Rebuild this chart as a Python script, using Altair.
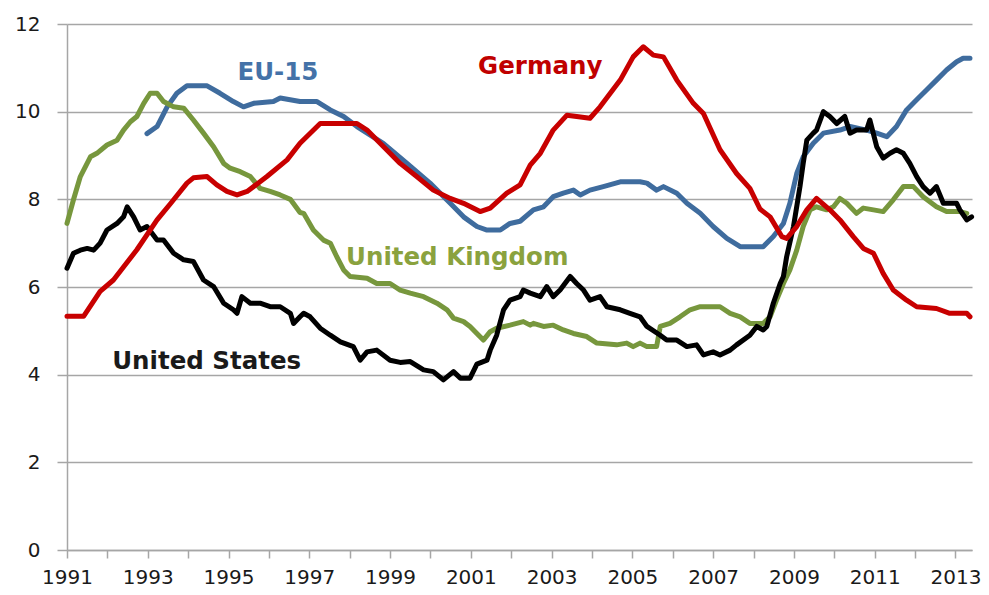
import altair as alt
import pandas as pd

# ---------------- data ----------------
eu_years = [1992.98, 1993.23, 1993.48, 1993.72, 1993.97, 1994.47, 1994.79, 1995.12, 1995.37, 1995.62,
            1996.11, 1996.28, 1996.77, 1997.19, 1997.52, 1997.85, 1998.18, 1998.84, 1999.42, 1999.99,
            2000.49, 2000.82, 2001.15, 2001.40, 2001.73, 2001.97, 2002.22, 2002.55, 2002.80, 2003.04,
            2003.29, 2003.54, 2003.71, 2003.95, 2004.28, 2004.70, 2005.19, 2005.36, 2005.60, 2005.77,
            2006.10, 2006.35, 2006.68, 2007.00, 2007.34, 2007.67, 2008.16, 2008.24, 2008.49, 2008.74,
            2008.90, 2009.07, 2009.23, 2009.48, 2009.73, 2010.14, 2010.39, 2010.80, 2011.05, 2011.30,
            2011.54, 2011.79, 2012.04, 2012.29, 2012.53, 2012.78, 2013.03, 2013.19, 2013.36]
eu_values = [9.50, 9.66, 10.11, 10.42, 10.59, 10.59, 10.42, 10.23, 10.11, 10.19,
             10.23, 10.31, 10.23, 10.23, 10.04, 9.89, 9.66, 9.27, 8.82, 8.37,
             7.91, 7.60, 7.38, 7.30, 7.30, 7.45, 7.50, 7.76, 7.83, 8.06,
             8.14, 8.21, 8.10, 8.21, 8.29, 8.40, 8.40, 8.37, 8.21, 8.29,
             8.14, 7.91, 7.68, 7.38, 7.11, 6.92, 6.92, 6.92, 7.15, 7.45,
             7.91, 8.59, 8.97, 9.28, 9.51, 9.58, 9.66, 9.58, 9.51, 9.43,
             9.66, 10.04, 10.27, 10.50, 10.72, 10.95, 11.14, 11.22, 11.22]

de_years = [1991.00, 1991.41, 1991.82, 1992.15, 1992.73, 1993.23, 1993.56, 1993.97, 1994.13, 1994.47,
            1994.71, 1994.96, 1995.21, 1995.46, 1995.95, 1996.45, 1996.77, 1997.27, 1998.18, 1998.43,
            1998.84, 1999.25, 1999.66, 2000.07, 2000.49, 2000.82, 2001.23, 2001.48, 2001.89, 2002.22,
            2002.47, 2002.72, 2003.04, 2003.38, 2003.62, 2003.95, 2004.20, 2004.70, 2005.02, 2005.27,
            2005.52, 2005.77, 2006.10, 2006.51, 2006.76, 2007.17, 2007.58, 2007.91, 2008.16, 2008.41,
            2008.70, 2008.82, 2009.07, 2009.32, 2009.56, 2009.89, 2010.14, 2010.47, 2010.72, 2010.97,
            2011.21, 2011.46, 2011.79, 2012.04, 2012.53, 2012.86, 2013.28, 2013.36]
de_values = [5.33, 5.33, 5.90, 6.16, 6.85, 7.53, 7.90, 8.37, 8.49, 8.52,
             8.33, 8.18, 8.10, 8.18, 8.52, 8.90, 9.28, 9.73, 9.73, 9.58,
             9.20, 8.82, 8.52, 8.21, 8.02, 7.91, 7.72, 7.80, 8.14, 8.33,
             8.78, 9.05, 9.58, 9.92, 9.89, 9.85, 10.11, 10.72, 11.25, 11.48,
             11.29, 11.25, 10.72, 10.19, 9.96, 9.13, 8.59, 8.25, 7.78, 7.60,
             7.15, 7.11, 7.38, 7.76, 8.02, 7.76, 7.53, 7.15, 6.88, 6.77,
             6.31, 5.93, 5.70, 5.55, 5.51, 5.40, 5.40, 5.32]

uk_years = [1991.00, 1991.16, 1991.33, 1991.58, 1991.74, 1991.99, 1992.24, 1992.40, 1992.57, 1992.73,
            1992.90, 1993.06, 1993.23, 1993.39, 1993.64, 1993.89, 1994.13, 1994.38, 1994.63, 1994.88,
            1995.04, 1995.29, 1995.54, 1995.78, 1996.03, 1996.28, 1996.53, 1996.77, 1996.86, 1997.10,
            1997.35, 1997.52, 1997.68, 1997.85, 1998.01, 1998.43, 1998.67, 1999.00, 1999.25, 1999.50,
            1999.83, 2000.16, 2000.41, 2000.57, 2000.82, 2000.98, 2001.15, 2001.31, 2001.48, 2001.64,
            2001.97, 2002.30, 2002.47, 2002.55, 2002.80, 2003.04, 2003.29, 2003.54, 2003.87, 2004.12,
            2004.61, 2004.86, 2005.02, 2005.19, 2005.36, 2005.60, 2005.69, 2005.93, 2006.18, 2006.43,
            2006.68, 2007.17, 2007.42, 2007.67, 2007.91, 2008.16, 2008.24, 2008.41, 2008.57, 2008.74,
            2008.90, 2009.07, 2009.23, 2009.40, 2009.56, 2009.81, 2009.98, 2010.14, 2010.31, 2010.55,
            2010.72, 2010.97, 2011.21, 2011.46, 2011.71, 2011.96, 2012.20, 2012.53, 2012.78, 2013.11,
            2013.28]
uk_values = [7.45, 7.99, 8.52, 8.97, 9.05, 9.24, 9.35, 9.58, 9.77, 9.89,
             10.19, 10.42, 10.42, 10.23, 10.11, 10.08, 9.81, 9.51, 9.20, 8.82,
             8.71, 8.63, 8.52, 8.25, 8.18, 8.10, 8.00, 7.70, 7.68, 7.30,
             7.07, 7.00, 6.69, 6.39, 6.24, 6.20, 6.08, 6.08, 5.93, 5.86,
             5.78, 5.63, 5.48, 5.29, 5.21, 5.10, 4.94, 4.79, 4.98, 5.06,
             5.13, 5.21, 5.13, 5.17, 5.10, 5.13, 5.02, 4.94, 4.87, 4.72,
             4.68, 4.72, 4.64, 4.72, 4.64, 4.64, 5.10, 5.17, 5.32, 5.48,
             5.55, 5.55, 5.40, 5.32, 5.17, 5.17, 5.17, 5.32, 5.70, 6.08,
             6.39, 6.84, 7.38, 7.76, 7.83, 7.76, 7.83, 8.02, 7.91, 7.68,
             7.80, 7.76, 7.72, 7.99, 8.29, 8.29, 8.06, 7.83, 7.72, 7.72,
             7.68]

us_years = [1991.00, 1991.16, 1991.33, 1991.50, 1991.66, 1991.82, 1991.99, 1992.24, 1992.40, 1992.49,
            1992.65, 1992.81, 1992.98, 1993.23, 1993.39, 1993.64, 1993.89, 1994.13, 1994.38, 1994.63,
            1994.88, 1995.12, 1995.21, 1995.33, 1995.54, 1995.78, 1996.03, 1996.28, 1996.53, 1996.61,
            1996.77, 1996.86, 1997.02, 1997.27, 1997.52, 1997.77, 1998.09, 1998.26, 1998.43, 1998.67,
            1999.00, 1999.25, 1999.50, 1999.83, 2000.07, 2000.32, 2000.57, 2000.74, 2000.98, 2001.15,
            2001.40, 2001.48, 2001.64, 2001.81, 2001.97, 2002.22, 2002.30, 2002.47, 2002.72, 2002.88,
            2003.04, 2003.21, 2003.46, 2003.62, 2003.79, 2003.95, 2004.20, 2004.37, 2004.70, 2004.94,
            2005.19, 2005.36, 2005.69, 2005.85, 2006.10, 2006.35, 2006.59, 2006.76, 2007.00, 2007.17,
            2007.42, 2007.58, 2007.91, 2008.08, 2008.24, 2008.33, 2008.49, 2008.66, 2008.74, 2008.82,
            2008.99, 2009.15, 2009.23, 2009.32, 2009.48, 2009.56, 2009.73, 2009.89, 2010.06, 2010.26,
            2010.39, 2010.55, 2010.80, 2010.88, 2011.05, 2011.21, 2011.38, 2011.54, 2011.71, 2011.87,
            2012.04, 2012.20, 2012.37, 2012.53, 2012.70, 2012.86, 2013.03, 2013.11, 2013.28, 2013.40]
us_values = [6.43, 6.77, 6.84, 6.88, 6.84, 7.00, 7.30, 7.45, 7.60, 7.83,
             7.60, 7.30, 7.38, 7.07, 7.07, 6.77, 6.62, 6.58, 6.16, 6.01,
             5.63, 5.48, 5.40, 5.78, 5.63, 5.63, 5.55, 5.55, 5.40, 5.17,
             5.32, 5.40, 5.32, 5.06, 4.90, 4.75, 4.64, 4.33, 4.52, 4.56,
             4.33, 4.28, 4.30, 4.11, 4.07, 3.88, 4.07, 3.92, 3.92, 4.24,
             4.33, 4.56, 4.90, 5.48, 5.70, 5.78, 5.93, 5.86, 5.78, 6.01,
             5.78, 5.93, 6.24, 6.08, 5.93, 5.70, 5.78, 5.55, 5.48, 5.40,
             5.32, 5.10, 4.90, 4.79, 4.79, 4.64, 4.68, 4.45, 4.52, 4.45,
             4.56, 4.68, 4.90, 5.10, 5.02, 5.10, 5.63, 6.08, 6.24, 6.69,
             7.38, 8.29, 8.82, 9.35, 9.51, 9.58, 10.00, 9.89, 9.73, 9.89,
             9.51, 9.58, 9.58, 9.81, 9.20, 8.94, 9.05, 9.13, 9.05, 8.82,
             8.52, 8.29, 8.14, 8.29, 7.91, 7.91, 7.91, 7.76, 7.53, 7.60]

# series labels placed in the plot (annotation text)
label_names = ["EU-15", "Germany", "United Kingdom", "United States"]
label_years = [1995.22, 2001.18, 1997.91, 1992.12]
label_values = [10.88, 11.02, 6.66, 4.30]

x_tick_years = list(range(1991, 2014))
y_ticks = [0, 2, 4, 6, 8, 10, 12]

# ---------------- styling ----------------
GRID = "#A6A6A6"
line_colors = {"EU-15": "#3F6C9E", "United Kingdom": "#77973D",
               "United States": "#000000", "Germany": "#C80000"}
label_colors = ["#4472A8", "#C00000", "#8AA23E", "#1A1A1A"]

x_scale = alt.Scale(domain=[1991, 2013.41], nice=False, zero=False)
y_scale = alt.Scale(domain=[0, 12], nice=False)

x_axis = alt.Axis(values=x_tick_years, format="d",
                  labelExpr="datum.value % 2 == 1 ? datum.label : ''",
                  grid=False, domainColor=GRID, domainWidth=1.5,
                  tickColor=GRID, tickWidth=1.5, tickSize=8,
                  labelFont="DejaVu Sans", labelFontSize=20, labelColor="#1A1A1A",
                  labelPadding=9, labelOverlap=False, labelFlush=False, title=None)
y_axis = alt.Axis(values=y_ticks, grid=True, gridColor=GRID, gridWidth=1.5,
                  domainColor=GRID, domainWidth=1.5, tickColor=GRID, tickWidth=1.5,
                  tickSize=10, labelFont="DejaVu Sans", labelFontSize=20,
                  labelColor="#1A1A1A", labelPadding=17, title=None)


def line_layer(yrs, vals, color):
    df = pd.DataFrame({"year": yrs, "value": vals})
    return alt.Chart(df).mark_line(
        color=color, strokeWidth=5, strokeJoin="round", strokeCap="round"
    ).encode(
        x=alt.X("year:Q", scale=x_scale, axis=x_axis),
        y=alt.Y("value:Q", scale=y_scale, axis=y_axis),
    )


layers = [
    line_layer(eu_years, eu_values, line_colors["EU-15"]),
    line_layer(uk_years, uk_values, line_colors["United Kingdom"]),
    line_layer(us_years, us_values, line_colors["United States"]),
    line_layer(de_years, de_values, line_colors["Germany"]),
]

labels_df = pd.DataFrame({"name": label_names, "year": label_years, "value": label_values})
text_layer = alt.Chart(labels_df).mark_text(
    align="left", baseline="middle", font="DejaVu Sans", fontWeight="bold", fontSize=24.5
).encode(
    x=alt.X("year:Q", scale=x_scale, axis=x_axis),
    y=alt.Y("value:Q", scale=y_scale, axis=y_axis),
    text="name:N",
    color=alt.Color("name:N", scale=alt.Scale(domain=label_names, range=label_colors), legend=None),
)

chart = alt.layer(*layers, text_layer).properties(
    width=905, height=526,
    autosize=alt.AutoSizeParams(type="none"),
    padding={"left": 59, "top": 16, "right": 9, "bottom": 37},
    background="white",
).configure_view(stroke=None)

chart.save("out.html", embed_options={"renderer": "svg", "actions": False})
